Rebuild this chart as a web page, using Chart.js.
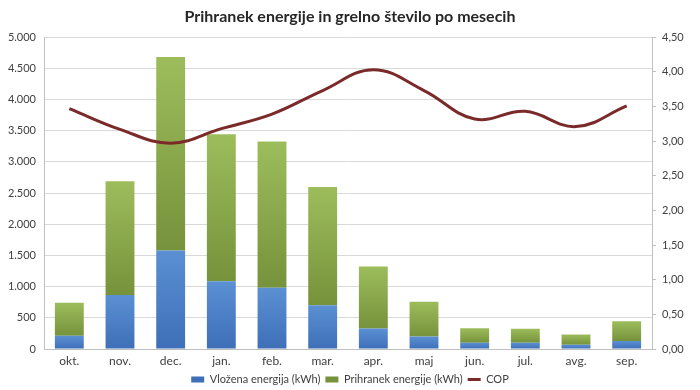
<!DOCTYPE html>
<html>
<head>
<meta charset="utf-8">
<script src="https://cdn.jsdelivr.net/npm/chart.js@4/dist/chart.umd.min.js"></script>
<style>
  html, body { margin: 0; padding: 0; background: #fff; }
  #wrap { width: 700px; height: 390px; }
</style>
</head>
<body>
<div id="wrap"><canvas id="chart" width="700" height="390"></canvas></div>
<script>
const months = ["okt.", "nov.", "dec.", "jan.", "feb.", "mar.", "apr.", "maj", "jun.", "jul.", "avg.", "sep."];
const vlozena = [212, 865, 1581, 1088, 982, 701, 329, 202, 101, 101, 69, 127];
const prihranek = [531, 1826, 3101, 2357, 2346, 1895, 993, 557, 233, 223, 164, 319];
const cop = [3.47, 3.17, 2.97, 3.18, 3.39, 3.73, 4.03, 3.73, 3.32, 3.43, 3.21, 3.51];

const FONT = "Lato, 'Open Sans', sans-serif";

function segmentGradient(context, lower, upper, topColor, bottomColor, fallback) {
  const chart = context.chart;
  const scale = chart.scales && chart.scales.y;
  if (!chart.chartArea || !scale || context.dataIndex === undefined) {
    return fallback;
  }
  const i = context.dataIndex;
  const yTop = scale.getPixelForValue(upper[i]);
  const yBottom = scale.getPixelForValue(lower[i]);
  if (!Number.isFinite(yTop) || !Number.isFinite(yBottom) || yTop === yBottom) {
    return fallback;
  }
  const g = chart.ctx.createLinearGradient(0, yTop, 0, yBottom);
  g.addColorStop(0, topColor);
  g.addColorStop(1, bottomColor);
  return g;
}

const totals = vlozena.map((v, i) => v + prihranek[i]);
const zeros = vlozena.map(() => 0);

new Chart(document.getElementById("chart"), {
  data: {
    labels: months,
    datasets: [
      {
        type: "line",
        label: "COP",
        data: cop,
        yAxisID: "y1",
        borderColor: "#7b2a2a",
        backgroundColor: "#7b2a2a",
        borderWidth: 3,
        tension: 0.4,
        pointRadius: 0,
        pointStyle: "line",
        order: 0
      },
      {
        type: "bar",
        label: "Vložena energija (kWh)",
        data: vlozena,
        yAxisID: "y",
        stack: "e",
        backgroundColor: (ctx) => segmentGradient(ctx, zeros, vlozena, "#5b90d3", "#3e6fb8", "#4f81bd"),
        pointStyle: "rect",
        barPercentage: 0.57,
        categoryPercentage: 1,
        order: 1
      },
      {
        type: "bar",
        label: "Prihranek energije (kWh)",
        data: prihranek,
        yAxisID: "y",
        stack: "e",
        backgroundColor: (ctx) => segmentGradient(ctx, vlozena, totals, "#9dbd5c", "#76923b", "#9bbb59"),
        pointStyle: "rect",
        barPercentage: 0.57,
        categoryPercentage: 1,
        order: 1
      }
    ]
  },
  options: {
    responsive: false,
    animation: false,
    layout: { padding: 0 },
    plugins: {
      title: {
        display: true,
        text: "Prihranek energije in grelno število po mesecih",
        color: "#262626",
        font: { family: FONT, size: 16, weight: "bold" },
        padding: { top: 7, bottom: 11 }
      },
      legend: {
        position: "bottom",
        maxHeight: 21,
        labels: {
          usePointStyle: true,
          pointStyleWidth: 13,
          boxHeight: 6,
          padding: 5,
          color: "#404040",
          font: { family: FONT, size: 11 },
          generateLabels: (chart) => {
            // put COP last, like the original legend
            const items = Chart.defaults.plugins.legend.labels.generateLabels(chart);
            return items.slice(1).concat(items.slice(0, 1));
          }
        }
      },
      tooltip: { enabled: false }
    },
    scales: {
      x: {
        stacked: true,
        afterFit: (scale) => { scale.height = 20; },
        grid: { display: false, drawTicks: false },
        border: { color: "#bfbfbf" },
        ticks: { color: "#404040", font: { family: FONT, size: 12 }, padding: 5 }
      },
      y: {
        stacked: true,
        min: 0,
        max: 5000,
        position: "left",
        afterFit: (scale) => { scale.width = 44; },
        ticks: {
          stepSize: 500,
          color: "#404040",
          font: { family: FONT, size: 11 },
          padding: 8,
          callback: (v) => v.toLocaleString("de-DE")
        },
        grid: { color: "#d9d9d9", drawTicks: false },
        border: { color: "#bfbfbf" }
      },
      y1: {
        min: 0,
        max: 4.5,
        position: "right",
        afterFit: (scale) => { scale.width = 48; },
        ticks: {
          stepSize: 0.5,
          color: "#404040",
          font: { family: FONT, size: 11 },
          padding: 6,
          callback: (v) => v.toFixed(2).replace(".", ",")
        },
        grid: { drawOnChartArea: false, tickLength: 4, color: "#bfbfbf" },
        border: { color: "#bfbfbf" }
      }
    }
  }
});
</script>
</body>
</html>
